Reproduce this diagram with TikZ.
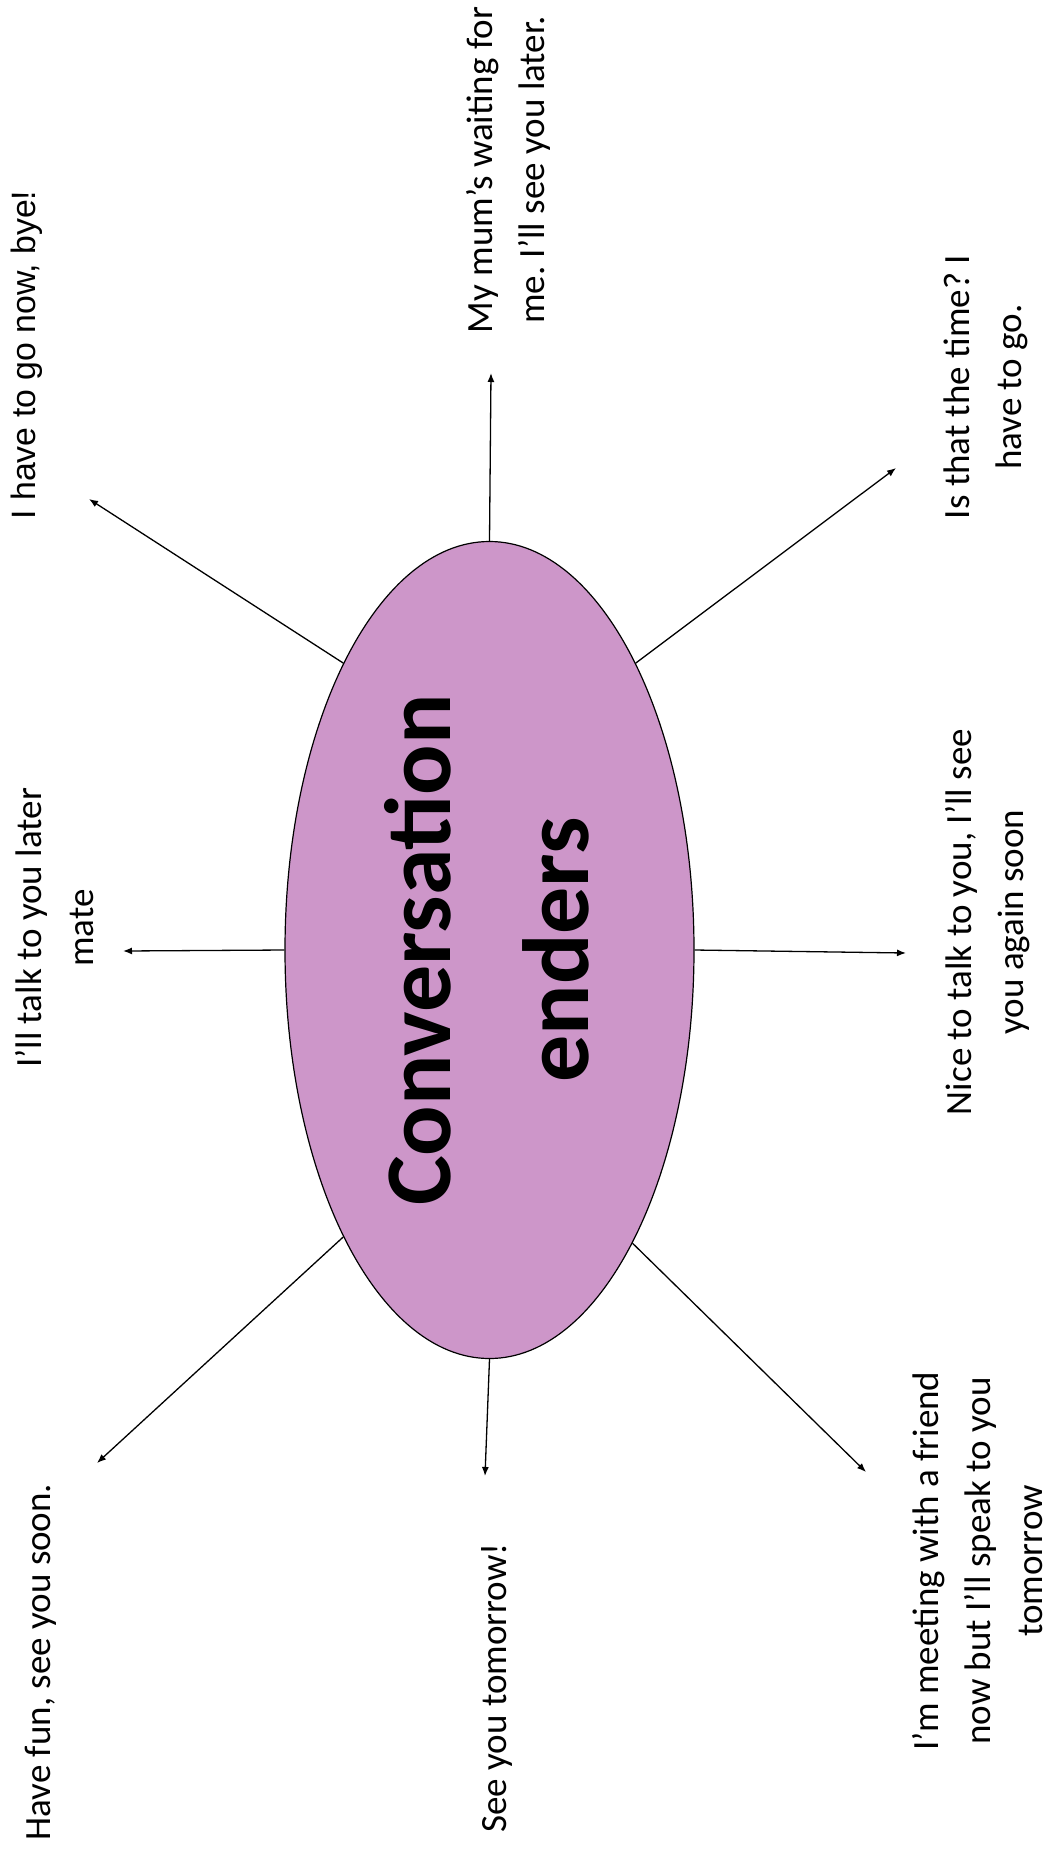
\documentclass[tikz,border=0pt]{standalone}
\usepackage{fontspec}
\setmainfont{Carlito}
\newfontfamily\arialfont{Liberation Sans}
\usetikzlibrary{shapes.geometric,arrows.meta}
\definecolor{ellfill}{RGB}{205,150,201}
\frenchspacing
\tikzset{
  lbl/.style={rotate=90, align=center, inner sep=0pt, font=\fontsize{18.5}{26}\selectfont},
  conn/.style={line width=0.65pt, -{Latex[length=4.5pt,width=3.5pt]}},
  hub/.style={ellipse, draw=black, line width=0.6pt, fill=ellfill, inner sep=0pt,
    minimum width=204.5pt, minimum height=408.5pt}
}
\begin{document}
\begin{tikzpicture}[x=0.5pt,y=-0.5pt]
\fill[white] (0,0) rectangle (1049,1854);
\useasboundingbox (0,0) rectangle (1049,1854);

\node[hub] (e) at (489.5,950) {};
\node[rotate=90, align=center, inner sep=0pt, font=\fontsize{47}{69}\selectfont\bfseries] (title) at (487,950) {Conversation\\enders};

% labels
\node[lbl, font=\fontsize{16.9}{24}\selectfont\arialfont] (t1) at (27,355) {I have to go now, bye!};
\node[lbl] (t2) at (508,170) {My mum’s waiting for\\me. I’ll see you later.};
\node[lbl] (t3) at (986,387) {Is that the time? I\\have to go.};
\node[lbl] (t4) at (55,928) {I’ll talk to you later\\mate};
\node[lbl] (t5) at (988,922) {Nice to talk to you, I’ll see\\you again soon};
\node[lbl] (t6) at (41,1662) {Have fun, see you soon.};
\node[lbl] (t7) at (497,1688) {See you tomorrow!};
\node[lbl] (t8) at (978,1561) {I’m meeting with a friend\\now but I’ll speak to you\\tomorrow};

% arrow end points
\coordinate (a1) at (89,499);
\coordinate (a2) at (491,373);
\coordinate (a3) at (896,468);
\coordinate (a4) at (123,951);
\coordinate (a5) at (906,953);
\coordinate (a6) at (97,1463);
\coordinate (a7) at (485,1476);
\coordinate (a8) at (866,1472);

\draw[conn] (e.117) -- (a1);
\draw[conn] (e.90) -- (a2);
\draw[conn] (e.63) -- (a3);
\draw[conn] (e.180) -- (a4);
\draw[conn] (e.0) -- (a5);
\draw[conn] (e.243.5) -- (a6);
\draw[conn] (e.270) -- (a7);
\draw[conn] (e.296.5) -- (a8);
\end{tikzpicture}
\end{document}
